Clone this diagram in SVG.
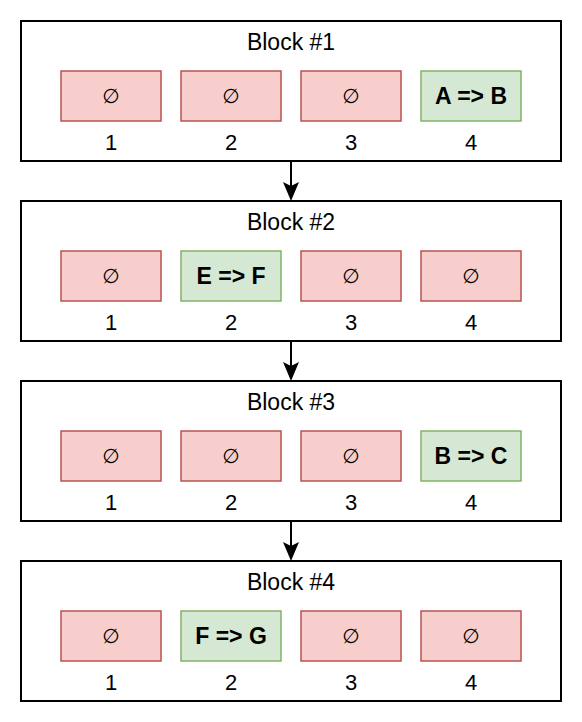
<svg xmlns="http://www.w3.org/2000/svg" width="582" height="722" viewBox="0 0 582 722">
<style>
.blk{fill:#fff;stroke:#000;stroke-width:2}
.red{fill:#f8cecc;stroke:#b85450;stroke-width:1.5}
.grn{fill:#d5e8d4;stroke:#82b366;stroke-width:1.5}
text{font-family:"Liberation Sans",Arial,sans-serif;fill:#000;text-anchor:middle;dominant-baseline:central}
.t{font-size:23px}
.n{font-size:22px}
.e{font-family:"DejaVu Sans","Liberation Sans",sans-serif;font-size:20px}
.b{font-size:23px;font-weight:bold}
.c{stroke:#000;stroke-width:2;fill:none}
.h{fill:#000;stroke:none}
</style>
<g id="connectors">
<line class="c" x1="291" y1="161" x2="291" y2="190"/>
<path class="h" d="M291 201 L283 182 L291 186 L299 182 Z"/>
<line class="c" x1="291" y1="341" x2="291" y2="370"/>
<path class="h" d="M291 381 L283 362 L291 366 L299 362 Z"/>
<line class="c" x1="291" y1="521" x2="291" y2="550"/>
<path class="h" d="M291 561 L283 542 L291 546 L299 542 Z"/>
</g>
<g id="block1">
<rect class="blk" x="21" y="21" width="540" height="140"/>
<text class="t" x="291" y="42">Block #1</text>
<rect class="red" x="61" y="71" width="100" height="50"/><text class="e" x="111" y="96">∅</text>
<rect class="red" x="181" y="71" width="100" height="50"/><text class="e" x="231" y="96">∅</text>
<rect class="red" x="301" y="71" width="100" height="50"/><text class="e" x="351" y="96">∅</text>
<rect class="grn" x="421" y="71" width="100" height="50"/><text class="b" x="471" y="96">A =&gt; B</text>
<text class="n" x="111" y="142">1</text><text class="n" x="231" y="142">2</text><text class="n" x="351" y="142">3</text><text class="n" x="471" y="142">4</text>
</g>
<g id="block2">
<rect class="blk" x="21" y="201" width="540" height="140"/>
<text class="t" x="291" y="222">Block #2</text>
<rect class="red" x="61" y="251" width="100" height="50"/><text class="e" x="111" y="276">∅</text>
<rect class="grn" x="181" y="251" width="100" height="50"/><text class="b" x="231" y="276">E =&gt; F</text>
<rect class="red" x="301" y="251" width="100" height="50"/><text class="e" x="351" y="276">∅</text>
<rect class="red" x="421" y="251" width="100" height="50"/><text class="e" x="471" y="276">∅</text>
<text class="n" x="111" y="322">1</text><text class="n" x="231" y="322">2</text><text class="n" x="351" y="322">3</text><text class="n" x="471" y="322">4</text>
</g>
<g id="block3">
<rect class="blk" x="21" y="381" width="540" height="140"/>
<text class="t" x="291" y="402">Block #3</text>
<rect class="red" x="61" y="431" width="100" height="50"/><text class="e" x="111" y="456">∅</text>
<rect class="red" x="181" y="431" width="100" height="50"/><text class="e" x="231" y="456">∅</text>
<rect class="red" x="301" y="431" width="100" height="50"/><text class="e" x="351" y="456">∅</text>
<rect class="grn" x="421" y="431" width="100" height="50"/><text class="b" x="471" y="456">B =&gt; C</text>
<text class="n" x="111" y="502">1</text><text class="n" x="231" y="502">2</text><text class="n" x="351" y="502">3</text><text class="n" x="471" y="502">4</text>
</g>
<g id="block4">
<rect class="blk" x="21" y="561" width="540" height="140"/>
<text class="t" x="291" y="582">Block #4</text>
<rect class="red" x="61" y="611" width="100" height="50"/><text class="e" x="111" y="636">∅</text>
<rect class="grn" x="181" y="611" width="100" height="50"/><text class="b" x="231" y="636">F =&gt; G</text>
<rect class="red" x="301" y="611" width="100" height="50"/><text class="e" x="351" y="636">∅</text>
<rect class="red" x="421" y="611" width="100" height="50"/><text class="e" x="471" y="636">∅</text>
<text class="n" x="111" y="682">1</text><text class="n" x="231" y="682">2</text><text class="n" x="351" y="682">3</text><text class="n" x="471" y="682">4</text>
</g>
</svg>
